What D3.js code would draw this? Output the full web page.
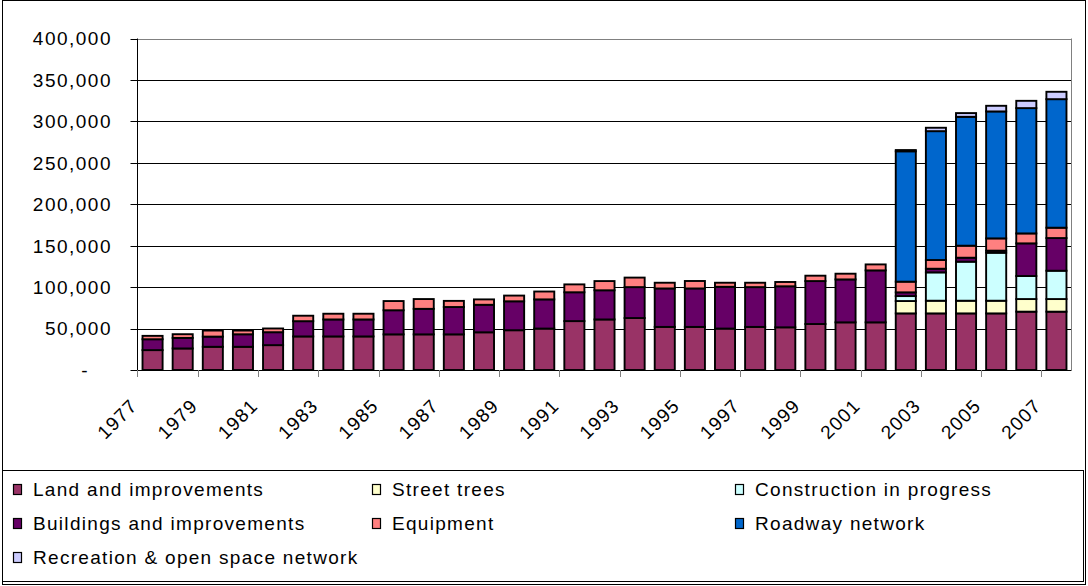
<!DOCTYPE html>
<html>
<head>
<meta charset="utf-8">
<script src="https://cdn.jsdelivr.net/npm/d3@7"></script>
<style>
  body { margin: 0; background: #fff; }
  #chart text { font-family: "Liberation Sans", Arial, sans-serif; fill: #000; }
</style>
</head>
<body>
<svg id="chart" width="1088" height="586"></svg>
<script>
  // values, stacked bottom to top
  const years = d3.range(1977, 2008).map(String);
  const land = [24000, 26000, 28000, 28000, 30000, 40500, 40500, 40500, 43000, 43000, 43000,
    45500, 48000, 50000, 59000, 61000, 62700, 52000, 52000, 50000, 52000, 51500, 55500,
    57500, 57500, 68300, 68300, 68300, 68300, 70400, 70400];
  const streetTrees = [0, 0, 0, 0, 0, 0, 0, 0, 0, 0, 0, 0, 0, 0, 0, 0, 0, 0, 0, 0, 0, 0, 0,
    0, 0, 14900, 15300, 15300, 15300, 15200, 15200];
  const construction = [0, 0, 0, 0, 0, 0, 0, 0, 0, 0, 0, 0, 0, 0, 0, 0, 0, 0, 0, 0, 0, 0, 0,
    0, 0, 6000, 34200, 47100, 57900, 27800, 34200];
  const buildings = [13100, 12700, 12300, 15100, 15600, 18400, 20500, 20500, 29100, 30800, 33000,
    33200, 34900, 35200, 34800, 35200, 37300, 46400, 46400, 50400, 48000, 49500, 51800,
    51800, 62700, 4500, 4400, 4800, 2500, 39400, 39400];
  const equipment = [4100, 4500, 7300, 4500, 4500, 6600, 6900, 6900, 11100, 11800, 7400,
    6500, 6900, 9500, 9500, 11100, 11500, 6900, 9000, 4900, 5300, 5200, 6500,
    6900, 7200, 12900, 10500, 14500, 14800, 12000, 12500];
  const roadway = [0, 0, 0, 0, 0, 0, 0, 0, 0, 0, 0, 0, 0, 0, 0, 0, 0, 0, 0, 0, 0, 0, 0,
    0, 0, 157300, 155500, 155500, 153200, 151200, 155100];
  const recreation = [0, 0, 0, 0, 0, 0, 0, 0, 0, 0, 0, 0, 0, 0, 0, 0, 0, 0, 0, 0, 0, 0, 0,
    0, 0, 1500, 4100, 4500, 6800, 8800, 8900];
  const yTicks = [0, 50000, 100000, 150000, 200000, 250000, 300000, 350000, 400000];

  const series = [
    { key: 'land', name: 'Land and improvements', color: '#993366', values: land },
    { key: 'trees', name: 'Street trees', color: '#FFFFCC', values: streetTrees },
    { key: 'construction', name: 'Construction in progress', color: '#CCFFFF', values: construction },
    { key: 'buildings', name: 'Buildings and improvements', color: '#660066', values: buildings },
    { key: 'equipment', name: 'Equipment', color: '#FF8080', values: equipment },
    { key: 'roadway', name: 'Roadway network', color: '#0066CC', values: roadway },
    { key: 'recreation', name: 'Recreation & open space network', color: '#CCCCFF', values: recreation }
  ];

  const svg = d3.select('#chart');
  const plot = { left: 137.5, right: 1071.5, top: 38.5, bottom: 370 };

  // outer frame
  svg.append('rect')
     .attr('x', 2.5).attr('y', 0.5).attr('width', 1083).attr('height', 584)
     .attr('fill', '#fff').attr('stroke', '#000');

  const rows = years.map((y, i) => {
    const r = { year: y };
    series.forEach(s => { r[s.key] = s.values[i]; });
    return r;
  });
  const stacked = d3.stack().keys(series.map(s => s.key))(rows);

  const x = d3.scaleBand()
              .domain(years)
              .range([plot.left, plot.right])
              .paddingInner(1 / 3)
              .paddingOuter(1 / 6);
  const y = d3.scaleLinear().domain([0, 400000]).range([plot.bottom, plot.top]);
  const step = x.step();

  // gridlines
  svg.append('g')
     .selectAll('line')
     .data(yTicks.filter(d => d > 0))
     .enter().append('line')
     .attr('x1', plot.left).attr('x2', plot.right)
     .attr('y1', d => Math.round(y(d)) + 0.5).attr('y2', d => Math.round(y(d)) + 0.5)
     .attr('stroke', d => d === 400000 ? '#808080' : '#000')
     .attr('stroke-width', 1);

  // right border of plot area
  svg.append('line')
     .attr('x1', plot.right).attr('x2', plot.right)
     .attr('y1', plot.top).attr('y2', plot.bottom)
     .attr('stroke', '#808080');

  // bars
  const layer = svg.append('g')
                   .selectAll('g')
                   .data(stacked)
                   .enter().append('g')
                   .attr('fill', (d, i) => series[i].color);

  layer.selectAll('rect')
       .data(d => d.filter(p => p[1] - p[0] > 0))
       .enter().append('rect')
       .attr('x', d => x(d.data.year))
       .attr('width', x.bandwidth())
       .attr('y', d => y(d[1]))
       .attr('height', d => y(d[0]) - y(d[1]))
       .attr('stroke', '#000')
       .attr('stroke-width', 1.9);

  // y axis
  const yAxis = svg.append('g');
  yAxis.append('line')
       .attr('x1', plot.left).attr('x2', plot.left)
       .attr('y1', plot.top).attr('y2', plot.bottom)
       .attr('stroke', '#000');
  yAxis.selectAll('line.tick')
       .data(yTicks)
       .enter().append('line')
       .attr('class', 'tick')
       .attr('x1', plot.left - 7).attr('x2', plot.left)
       .attr('y1', d => Math.round(y(d)) + 0.5).attr('y2', d => Math.round(y(d)) + 0.5)
       .attr('stroke', '#000');
  yAxis.selectAll('text')
       .data(yTicks)
       .enter().append('text')
       .attr('x', d => d === 0 ? 89 : 112)
       .attr('y', d => y(d))
       .attr('dy', '0.36em')
       .attr('text-anchor', 'end')
       .style('font-size', '19px')
       .style('letter-spacing', '1.5px')
       .text(d => d === 0 ? '-' : d3.format(',')(d));

  // x axis
  const xAxis = svg.append('g');
  xAxis.append('line')
       .attr('x1', plot.left).attr('x2', plot.right)
       .attr('y1', plot.bottom + 0.5).attr('y2', plot.bottom + 0.5)
       .attr('stroke', '#000');
  const labelled = years.filter((d, i) => i % 2 === 0);
  xAxis.selectAll('line.tick')
       .data(labelled)
       .enter().append('line')
       .attr('class', 'tick')
       .attr('x1', d => Math.round(x(d) - (step - x.bandwidth()) / 2) + 0.5)
       .attr('x2', d => Math.round(x(d) - (step - x.bandwidth()) / 2) + 0.5)
       .attr('y1', plot.bottom).attr('y2', plot.bottom + 7)
       .attr('stroke', '#808080');
  xAxis.selectAll('text')
       .data(labelled)
       .enter().append('text')
       .attr('text-anchor', 'end')
       .attr('transform', d => 'translate(' + (x(d) + x.bandwidth() / 2 - 14) + ',' + 407 + ') rotate(-45)')
       .style('font-size', '19px')
       .style('letter-spacing', '1.2px')
       .text(d => d);

  // legend
  svg.append('rect')
     .attr('x', 2.5).attr('y', 470.5).attr('width', 1081).attr('height', 111)
     .attr('fill', 'none').attr('stroke', '#000');

  const colX = [13, 372, 735];
  const rowY = [489, 523, 557];
  const item = svg.append('g')
                  .selectAll('g')
                  .data(series)
                  .enter().append('g')
                  .attr('transform', (d, i) => 'translate(' + colX[i % 3] + ',' + rowY[Math.floor(i / 3)] + ')');
  item.append('rect')
      .attr('x', 0.5).attr('y', -4.5).attr('width', 8).attr('height', 10)
      .attr('fill', d => d.color)
      .attr('stroke', '#000')
      .attr('stroke-width', 1.2);
  item.append('text')
      .attr('x', 20)
      .attr('y', 0)
      .attr('dy', '0.36em')
      .style('font-size', '19px')
      .style('letter-spacing', '1.3px')
      .text(d => d.name);
</script>
</body>
</html>
